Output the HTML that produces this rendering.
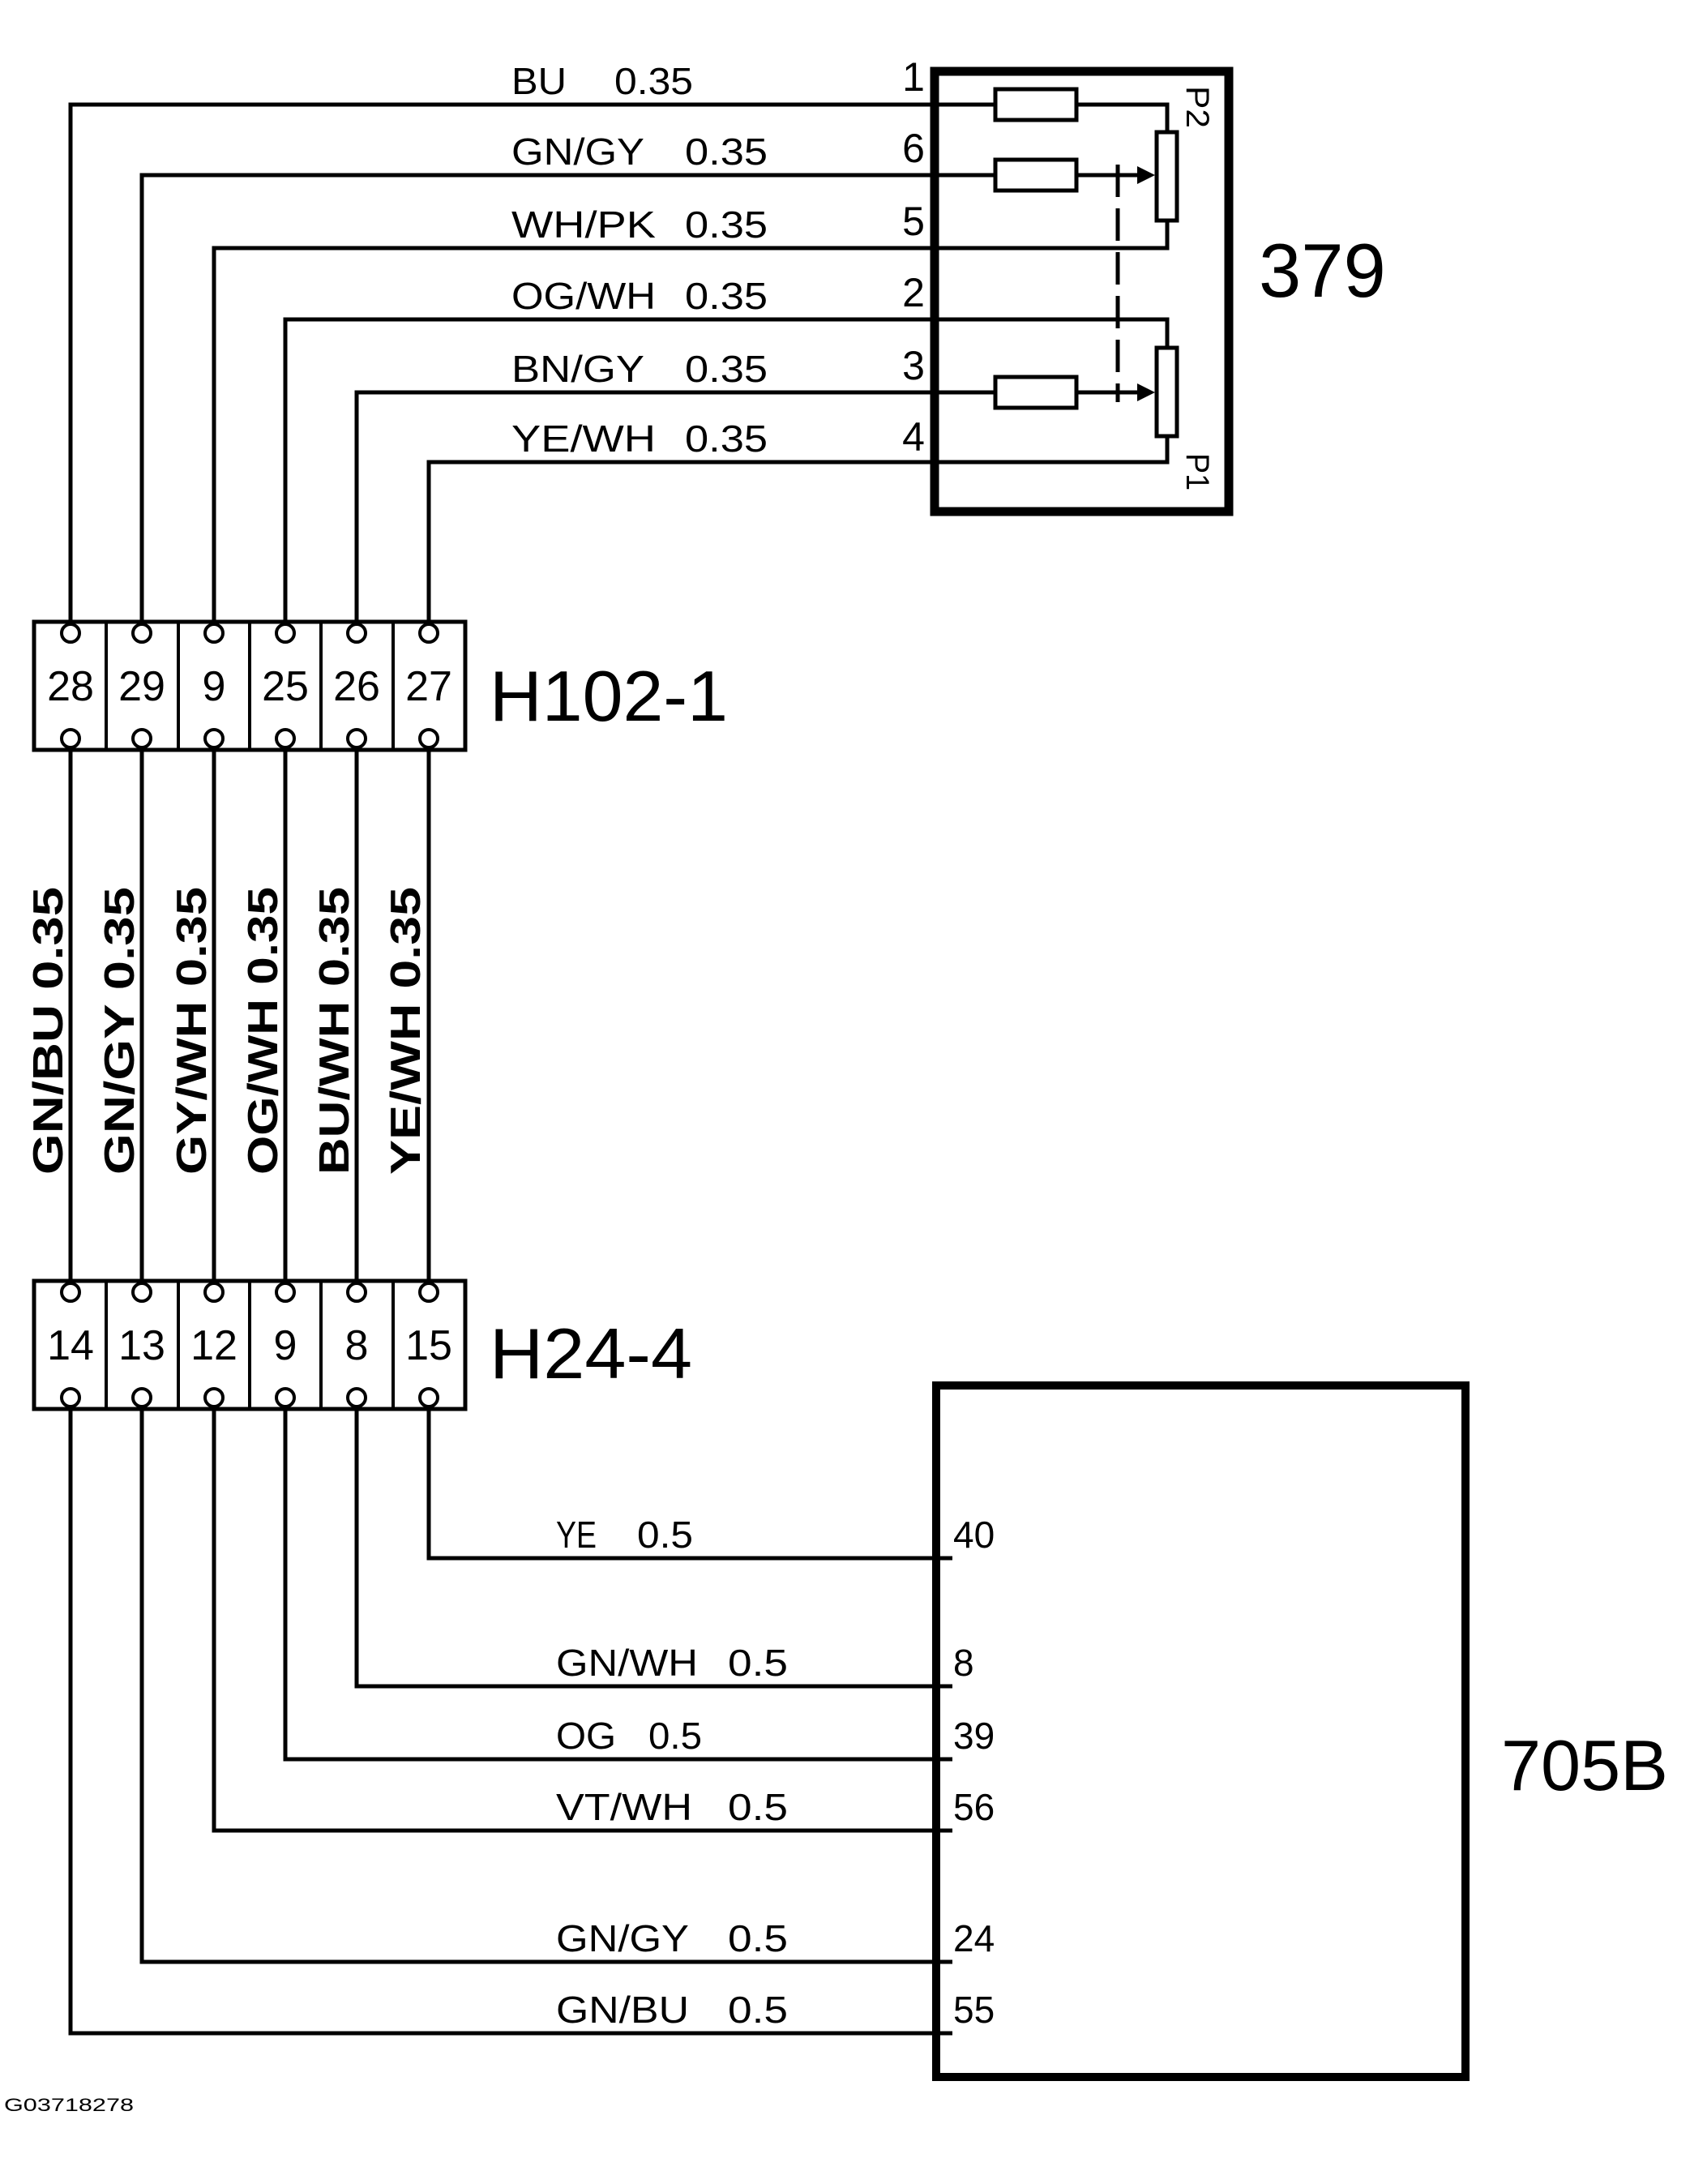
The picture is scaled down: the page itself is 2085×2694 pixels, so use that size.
<!DOCTYPE html>
<html><head><meta charset="utf-8"><style>
html,body{margin:0;padding:0;background:#fff}
svg{display:block}
text{font-family:"Liberation Sans",Arial,sans-serif;fill:#000}
</style></head><body>
<svg width="2085" height="2694" viewBox="0 0 2085 2694" xmlns="http://www.w3.org/2000/svg">
<g fill="none" stroke="#000" stroke-width="5">
<polyline points="87,768 87,129 1440,129 1440,163"/>
<polyline points="175,768 175,216 1410,216"/>
<polyline points="264,768 264,306 1440,306 1440,272"/>
<polyline points="352,768 352,394 1440,394 1440,429"/>
<polyline points="440,768 440,484 1410,484"/>
<polyline points="529,768 529,570 1440,570 1440,538"/>
<rect x="1228" y="110" width="100" height="38" fill="#fff"/>
<rect x="1228" y="197" width="100" height="38" fill="#fff"/>
<rect x="1228" y="465" width="100" height="38" fill="#fff"/>
<rect x="1427" y="163" width="25" height="109" fill="#fff"/>
<rect x="1427" y="429" width="25" height="109" fill="#fff"/>
<line x1="1379" y1="203" x2="1379" y2="496" stroke-dasharray="40,14"/>
<rect x="1153" y="88" width="363" height="543" stroke-width="11"/>
<line x1="87" y1="925" x2="87" y2="1582"/>
<line x1="175" y1="925" x2="175" y2="1582"/>
<line x1="264" y1="925" x2="264" y2="1582"/>
<line x1="352" y1="925" x2="352" y2="1582"/>
<line x1="440" y1="925" x2="440" y2="1582"/>
<line x1="529" y1="925" x2="529" y2="1582"/>
<polyline points="529,1738 529,1922 1175,1922"/>
<polyline points="440,1738 440,2080 1175,2080"/>
<polyline points="352,1738 352,2170 1175,2170"/>
<polyline points="264,1738 264,2258 1175,2258"/>
<polyline points="175,1738 175,2420 1175,2420"/>
<polyline points="87,1738 87,2508 1175,2508"/>
<rect x="1155" y="1709" width="653" height="853" stroke-width="10"/>
<rect x="42" y="767" width="532" height="158" fill="#fff"/>
<rect x="42" y="1580" width="532" height="158" fill="#fff"/>
<g stroke-width="4">
<line x1="131" y1="767" x2="131" y2="925"/><line x1="220" y1="767" x2="220" y2="925"/>
<line x1="308" y1="767" x2="308" y2="925"/><line x1="396" y1="767" x2="396" y2="925"/>
<line x1="485" y1="767" x2="485" y2="925"/>
<line x1="131" y1="1580" x2="131" y2="1738"/><line x1="220" y1="1580" x2="220" y2="1738"/>
<line x1="308" y1="1580" x2="308" y2="1738"/><line x1="396" y1="1580" x2="396" y2="1738"/>
<line x1="485" y1="1580" x2="485" y2="1738"/>
</g>
<g stroke-width="4">
<circle cx="87" cy="781" r="11"/><circle cx="175" cy="781" r="11"/><circle cx="264" cy="781" r="11"/><circle cx="352" cy="781" r="11"/><circle cx="440" cy="781" r="11"/><circle cx="529" cy="781" r="11"/>
<circle cx="87" cy="911" r="11"/><circle cx="175" cy="911" r="11"/><circle cx="264" cy="911" r="11"/><circle cx="352" cy="911" r="11"/><circle cx="440" cy="911" r="11"/><circle cx="529" cy="911" r="11"/>
<circle cx="87" cy="1594" r="11"/><circle cx="175" cy="1594" r="11"/><circle cx="264" cy="1594" r="11"/><circle cx="352" cy="1594" r="11"/><circle cx="440" cy="1594" r="11"/><circle cx="529" cy="1594" r="11"/>
<circle cx="87" cy="1724" r="11"/><circle cx="175" cy="1724" r="11"/><circle cx="264" cy="1724" r="11"/><circle cx="352" cy="1724" r="11"/><circle cx="440" cy="1724" r="11"/><circle cx="529" cy="1724" r="11"/>
</g>
</g>
<polygon points="1425,216 1403,205 1403,227" fill="#000"/>
<polygon points="1425,484 1403,473 1403,495" fill="#000"/>

<g font-size="46">
<text x="631" y="116" textLength="68" lengthAdjust="spacingAndGlyphs">BU</text>
<text x="758" y="116" textLength="97" lengthAdjust="spacingAndGlyphs">0.35</text>
<text x="631" y="203" textLength="164" lengthAdjust="spacingAndGlyphs">GN/GY</text>
<text x="845" y="203" textLength="102" lengthAdjust="spacingAndGlyphs">0.35</text>
<text x="631" y="293" textLength="178" lengthAdjust="spacingAndGlyphs">WH/PK</text>
<text x="845" y="293" textLength="102" lengthAdjust="spacingAndGlyphs">0.35</text>
<text x="631" y="381" textLength="178" lengthAdjust="spacingAndGlyphs">OG/WH</text>
<text x="845" y="381" textLength="102" lengthAdjust="spacingAndGlyphs">0.35</text>
<text x="631" y="471" textLength="164" lengthAdjust="spacingAndGlyphs">BN/GY</text>
<text x="845" y="471" textLength="102" lengthAdjust="spacingAndGlyphs">0.35</text>
<text x="631" y="557" textLength="178" lengthAdjust="spacingAndGlyphs">YE/WH</text>
<text x="845" y="557" textLength="102" lengthAdjust="spacingAndGlyphs">0.35</text>
</g>
<g font-size="50" text-anchor="middle">
<text x="1127" y="112">1</text><text x="1127" y="200">6</text><text x="1127" y="290">5</text>
<text x="1127" y="378">2</text><text x="1127" y="468">3</text><text x="1127" y="556">4</text>
</g>
<text font-size="40" transform="translate(1464,106) rotate(90)" textLength="52" lengthAdjust="spacingAndGlyphs">P2</text>
<text font-size="40" transform="translate(1464,559) rotate(90)" textLength="46" lengthAdjust="spacingAndGlyphs">P1</text>
<text x="1553" y="366" font-size="94">379</text>

<g font-size="52" text-anchor="middle">
<text x="87" y="864">28</text><text x="175" y="864">29</text><text x="264" y="864">9</text>
<text x="352" y="864">25</text><text x="440" y="864">26</text><text x="529" y="864">27</text>
<text x="87" y="1677">14</text><text x="175" y="1677">13</text><text x="264" y="1677">12</text>
<text x="352" y="1677">9</text><text x="440" y="1677">8</text><text x="529" y="1677">15</text>
</g>
<text x="604" y="889" font-size="88" textLength="294" lengthAdjust="spacingAndGlyphs">H102-1</text>
<text x="604" y="1700" font-size="88" textLength="250" lengthAdjust="spacingAndGlyphs">H24-4</text>

<g font-size="52" font-weight="bold">
<text transform="translate(77,1449) rotate(-90)" textLength="355" lengthAdjust="spacingAndGlyphs">GN/BU 0.35</text>
<text transform="translate(165,1449) rotate(-90)" textLength="355" lengthAdjust="spacingAndGlyphs">GN/GY 0.35</text>
<text transform="translate(254,1449) rotate(-90)" textLength="355" lengthAdjust="spacingAndGlyphs">GY/WH 0.35</text>
<text transform="translate(342,1449) rotate(-90)" textLength="355" lengthAdjust="spacingAndGlyphs">OG/WH 0.35</text>
<text transform="translate(430,1449) rotate(-90)" textLength="355" lengthAdjust="spacingAndGlyphs">BU/WH 0.35</text>
<text transform="translate(518,1449) rotate(-90)" textLength="355" lengthAdjust="spacingAndGlyphs">YE/WH 0.35</text>
</g>

<g font-size="46">
<text x="686" y="1909" textLength="50" lengthAdjust="spacingAndGlyphs">YE</text>
<text x="786" y="1909" textLength="69" lengthAdjust="spacingAndGlyphs">0.5</text>
<text x="686" y="2067" textLength="175" lengthAdjust="spacingAndGlyphs">GN/WH</text>
<text x="898" y="2067" textLength="74" lengthAdjust="spacingAndGlyphs">0.5</text>
<text x="686" y="2157" textLength="74" lengthAdjust="spacingAndGlyphs">OG</text>
<text x="800" y="2157" textLength="66" lengthAdjust="spacingAndGlyphs">0.5</text>
<text x="686" y="2245" textLength="168" lengthAdjust="spacingAndGlyphs">VT/WH</text>
<text x="898" y="2245" textLength="74" lengthAdjust="spacingAndGlyphs">0.5</text>
<text x="686" y="2407" textLength="164" lengthAdjust="spacingAndGlyphs">GN/GY</text>
<text x="898" y="2407" textLength="74" lengthAdjust="spacingAndGlyphs">0.5</text>
<text x="686" y="2495" textLength="164" lengthAdjust="spacingAndGlyphs">GN/BU</text>
<text x="898" y="2495" textLength="74" lengthAdjust="spacingAndGlyphs">0.5</text>
</g>
<g font-size="46">
<text x="1176" y="1909">40</text><text x="1176" y="2067">8</text><text x="1176" y="2157">39</text>
<text x="1176" y="2245">56</text><text x="1176" y="2407">24</text><text x="1176" y="2495">55</text>
</g>
<text x="1852" y="2208" font-size="88" textLength="206" lengthAdjust="spacingAndGlyphs">705B</text>
<text x="5" y="2604" font-size="22" textLength="160" lengthAdjust="spacingAndGlyphs">G03718278</text>
</svg>
</body></html>
